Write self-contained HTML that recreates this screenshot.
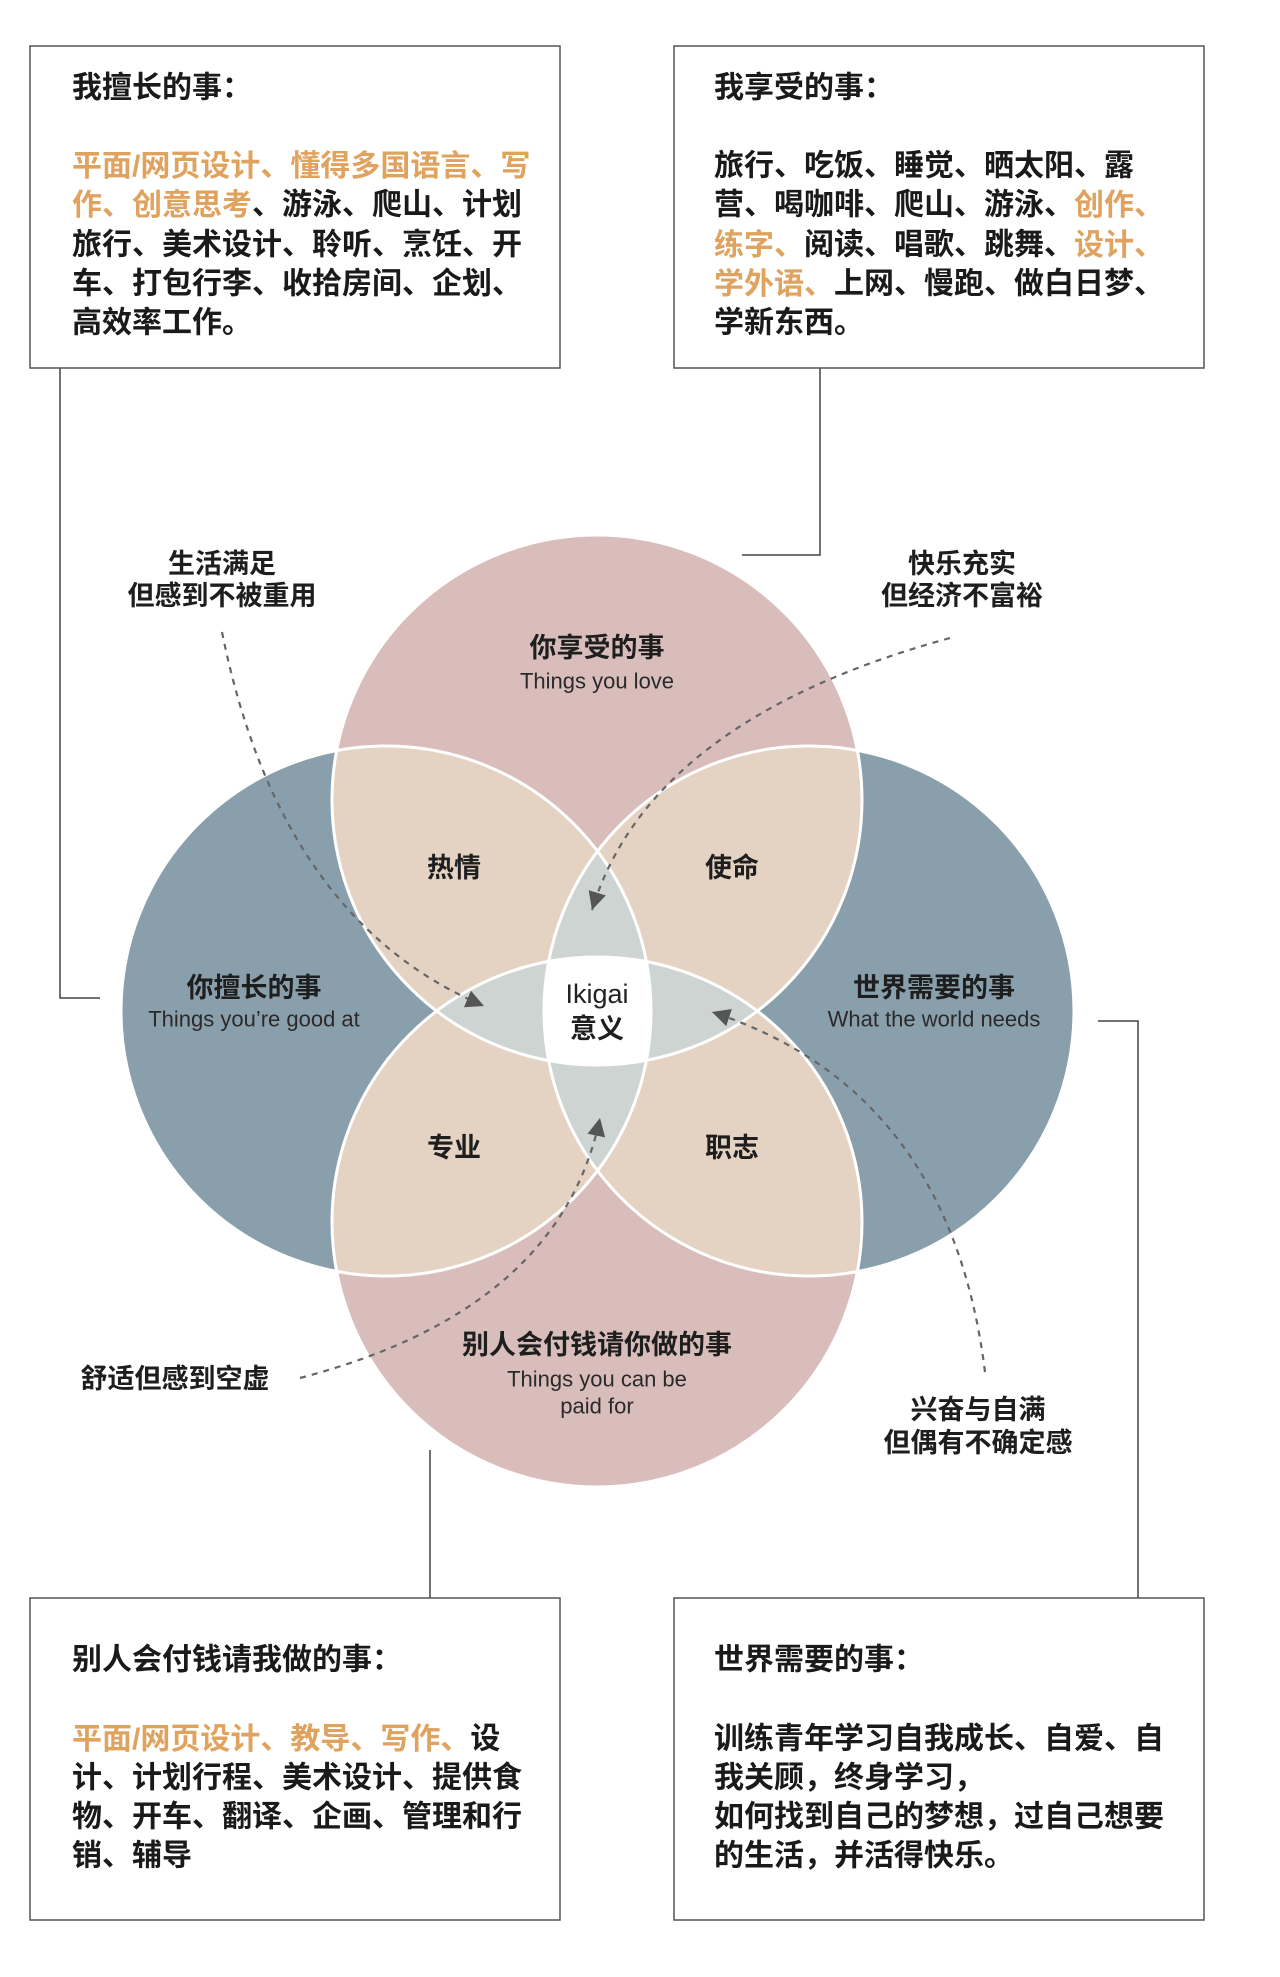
<!DOCTYPE html>
<html><head><meta charset="utf-8"><style>
html,body{margin:0;padding:0;background:#fff;}
svg{display:block;}
text{font-family:"Liberation Sans","Noto Sans CJK SC",sans-serif;}
.b{font-size:30px;font-weight:bold;fill:#1a1a1a;}
.o{fill:#e0a35f;}
.l{font-size:27px;font-weight:bold;fill:#1e1e1e;}
.e{font-size:22px;fill:#2a2a2a;}
</style></head><body>
<svg width="1280" height="1977" viewBox="0 0 1280 1977" xmlns="http://www.w3.org/2000/svg">
<defs>
<clipPath id="cT"><circle cx="597" cy="800" r="265"/></clipPath>
<clipPath id="cB"><circle cx="597" cy="1222" r="265"/></clipPath>
<clipPath id="cL"><circle cx="386" cy="1011" r="265"/></clipPath>
<clipPath id="cR"><circle cx="809" cy="1011" r="265"/></clipPath>
<marker id="ar" viewBox="0 0 10 10" refX="10" refY="5" markerWidth="18" markerHeight="18" orient="auto" markerUnits="userSpaceOnUse">
<path d="M0,0 L10,5 L0,10 z" fill="#555"/>
</marker>
</defs>

<g stroke="#444" stroke-width="1.5" fill="none">
<polyline points="60,368 60,998 100,998"/>
<polyline points="820,368 820,555 742,555"/>
<line x1="430" y1="1450" x2="430" y2="1598"/>
<polyline points="1098,1021 1138,1021 1138,1598"/>
</g>

<g stroke="#555" stroke-width="1.5" fill="#fff">
<rect x="30" y="46" width="530" height="322"/>
<rect x="674" y="46" width="530" height="322"/>
<rect x="30" y="1598" width="530" height="322"/>
<rect x="674" y="1598" width="530" height="322"/>
</g>

<g class="b" dominant-baseline="central">
<text x="72" y="88">我擅长的事：</text>
<text x="72" y="166"><tspan class="o">平面/网页设计、懂得多国语言、写</tspan></text>
<text x="72" y="205"><tspan class="o">作、创意思考</tspan>、游泳、爬山、计划</text>
<text x="72" y="245">旅行、美术设计、聆听、烹饪、开</text>
<text x="72" y="284">车、打包行李、收拾房间、企划、</text>
<text x="72" y="323">高效率工作。</text>

<text x="714" y="88">我享受的事：</text>
<text x="714" y="166">旅行、吃饭、睡觉、晒太阳、露</text>
<text x="714" y="205">营、喝咖啡、爬山、游泳、<tspan class="o">创作、</tspan></text>
<text x="714" y="245"><tspan class="o">练字、</tspan>阅读、唱歌、跳舞、<tspan class="o">设计、</tspan></text>
<text x="714" y="284"><tspan class="o">学外语、</tspan>上网、慢跑、做白日梦、</text>
<text x="714" y="323">学新东西。</text>

<text x="72" y="1660">别人会付钱请我做的事：</text>
<text x="72" y="1739"><tspan class="o">平面/网页设计、教导、写作、</tspan>设</text>
<text x="72" y="1778">计、计划行程、美术设计、提供食</text>
<text x="72" y="1817">物、开车、翻译、企画、管理和行</text>
<text x="72" y="1856">销、辅导</text>

<text x="714" y="1660">世界需要的事：</text>
<text x="714" y="1739">训练青年学习自我成长、自爱、自</text>
<text x="714" y="1778">我关顾，终身学习，</text>
<text x="714" y="1817">如何找到自己的梦想，过自己想要</text>
<text x="714" y="1856">的生活，并活得快乐。</text>
</g>

<circle cx="597" cy="800" r="265" fill="#d9bdbb"/>
<circle cx="597" cy="1222" r="265" fill="#d9bdbb"/>
<circle cx="386" cy="1011" r="265" fill="#8a9fac"/>
<circle cx="809" cy="1011" r="265" fill="#8a9fac"/>
<g clip-path="url(#cT)"><rect x="0" y="0" width="1280" height="1977" fill="#e4d3c3" clip-path="url(#cL)"/></g>
<g clip-path="url(#cT)"><rect x="0" y="0" width="1280" height="1977" fill="#e4d3c3" clip-path="url(#cR)"/></g>
<g clip-path="url(#cB)"><rect x="0" y="0" width="1280" height="1977" fill="#e4d3c3" clip-path="url(#cL)"/></g>
<g clip-path="url(#cB)"><rect x="0" y="0" width="1280" height="1977" fill="#e4d3c3" clip-path="url(#cR)"/></g>
<g clip-path="url(#cT)"><g clip-path="url(#cL)"><rect x="0" y="0" width="1280" height="1977" fill="#ced4d2" clip-path="url(#cR)"/></g></g>
<g clip-path="url(#cB)"><g clip-path="url(#cL)"><rect x="0" y="0" width="1280" height="1977" fill="#ced4d2" clip-path="url(#cR)"/></g></g>
<g clip-path="url(#cT)"><g clip-path="url(#cB)"><rect x="0" y="0" width="1280" height="1977" fill="#ced4d2" clip-path="url(#cL)"/></g></g>
<g clip-path="url(#cT)"><g clip-path="url(#cB)"><rect x="0" y="0" width="1280" height="1977" fill="#ced4d2" clip-path="url(#cR)"/></g></g>
<g clip-path="url(#cT)"><g clip-path="url(#cB)"><g clip-path="url(#cL)"><rect x="0" y="0" width="1280" height="1977" fill="#ffffff" clip-path="url(#cR)"/></g></g></g>
<g fill="none" stroke="#fff" stroke-width="3">
<circle cx="597" cy="800" r="265"/>
<circle cx="597" cy="1222" r="265"/>
<circle cx="386" cy="1011" r="265"/>
<circle cx="809" cy="1011" r="265"/>
</g>

<g fill="none" stroke="#666" stroke-width="2.2" stroke-dasharray="6,6" marker-end="url(#ar)">
<path d="M222,632 Q280,920 484,1006"/>
<path d="M950,638 Q650,720 592,910"/>
<path d="M300,1378 Q560,1310 600,1118"/>
<path d="M985,1372 Q950,1090 712,1012"/>
</g>

<g text-anchor="middle" dominant-baseline="central">
<text class="l" x="597" y="648">你享受的事</text>
<text class="e" x="597" y="681">Things you love</text>
<text class="l" x="454" y="868">热情</text>
<text class="l" x="732" y="868">使命</text>
<text class="l" x="454" y="1148">专业</text>
<text class="l" x="732" y="1148">职志</text>
<text class="l" x="254" y="988">你擅长的事</text>
<text class="e" x="254" y="1019">Things you’re good at</text>
<text class="l" x="934" y="988">世界需要的事</text>
<text class="e" x="934" y="1019">What the world needs</text>
<text x="597" y="994" style="font-size:27px;fill:#222">Ikigai</text>
<text class="l" x="597" y="1029">意义</text>
<text class="l" x="597" y="1345">别人会付钱请你做的事</text>
<text class="e" x="597" y="1379">Things you can be</text>
<text class="e" x="597" y="1406">paid for</text>

<text class="l" x="222" y="564">生活满足</text>
<text class="l" x="222" y="596">但感到不被重用</text>
<text class="l" x="962" y="564">快乐充实</text>
<text class="l" x="962" y="596">但经济不富裕</text>
<text class="l" x="175" y="1379">舒适但感到空虚</text>
<text class="l" x="978" y="1410">兴奋与自满</text>
<text class="l" x="978" y="1443">但偶有不确定感</text>
</g>
</svg>
</body></html>
